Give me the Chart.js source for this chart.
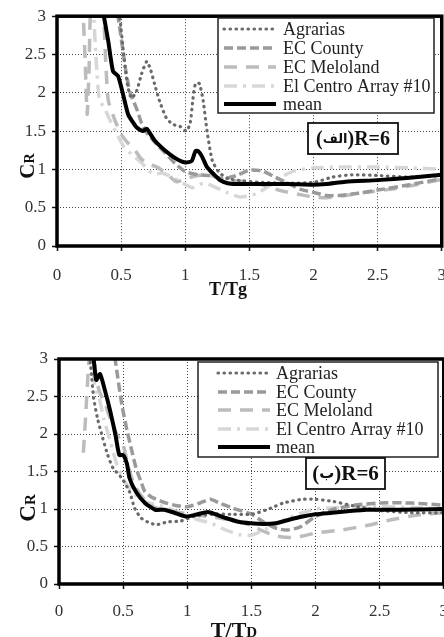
<!DOCTYPE html>
<html>
<head>
<meta charset="utf-8">
<script src="https://cdn.jsdelivr.net/npm/chart.js@4.4.1/dist/chart.umd.min.js"></script>
<style>
  html, body { margin: 0; padding: 0; background: #fff; overflow: hidden; width: 444px; height: 637px; position: relative; }
  canvas { position: absolute; left: 0; display: block; }
</style>
</head>
<body>
<canvas id="chartUpper" width="460" height="300" style="top:0"></canvas>
<canvas id="chartLower" width="460" height="337" style="top:300px"></canvas>
<script>
// ---- series names and axis ticks ----
const seriesNames = ['Agrarias', 'EC County', 'EC Meloland', 'El Centro Array #10', 'mean'];
const axisTicks = [0, 0.5, 1, 1.5, 2, 2.5, 3];

// ---- upper panel: C_R against T/Tg ----
const upperAgrariasX = [0.46,0.49,0.52,0.55,0.58,0.62,0.66,0.70,0.73,0.76,0.80,0.85,0.90,0.96,1.01,1.04,1.06,1.08,1.11,1.14,1.17,1.21,1.26,1.33,1.45,1.6,1.8,2.0,2.15,2.3,2.5,2.75,3.0];
const upperAgrariasY = [3.2,2.97,2.5,2.1,1.93,2.02,2.25,2.41,2.3,2.12,1.89,1.68,1.59,1.56,1.50,1.62,1.92,2.12,2.12,1.89,1.50,1.12,0.97,0.88,0.85,0.83,0.82,0.83,0.90,0.93,0.92,0.90,0.92];
const upperCountyX = [0.45,0.48,0.51,0.54,0.57,0.60,0.63,0.66,0.70,0.76,0.84,0.92,1.0,1.1,1.2,1.3,1.4,1.5,1.6,1.7,1.8,1.9,2.0,2.1,2.2,2.35,2.5,2.75,3.0];
const upperCountyY = [3.2,2.95,2.6,2.25,2.0,1.88,1.75,1.6,1.48,1.36,1.22,1.08,0.97,0.93,0.92,0.88,0.92,0.99,0.98,0.9,0.82,0.74,0.7,0.66,0.66,0.69,0.73,0.8,0.88];
const upperMelolandX = [0.2,0.22,0.235,0.25,0.27,0.35,0.38,0.40,0.45,0.50,0.55,0.60,0.65,0.70,0.78,0.86,0.93,1.0,1.1,1.2,1.3,1.4,1.5,1.6,1.75,1.9,2.0,2.1,2.25,2.4,2.6,2.8,3.0];
const upperMelolandY = [3.2,2.4,1.72,2.3,3.2,3.2,2.4,1.9,1.65,1.46,1.35,1.27,1.15,1.08,1.03,0.94,0.84,0.88,0.92,0.92,0.86,0.85,0.84,0.8,0.72,0.67,0.64,0.63,0.66,0.7,0.74,0.8,0.87];
const upperCentroX = [0.28,0.31,0.33,0.37,0.42,0.47,0.52,0.58,0.65,0.72,0.75,0.82,0.9,0.98,1.06,1.14,1.22,1.32,1.43,1.55,1.65,1.75,1.85,2.0,2.2,2.5,2.75,3.0];
const upperCentroY = [3.2,2.3,1.92,1.8,1.62,1.45,1.3,1.2,1.1,0.98,0.94,0.95,0.9,0.82,0.76,0.82,0.78,0.7,0.64,0.68,0.78,0.9,0.98,1.02,1.03,1.03,1.02,1.0];
const upperMeanX = [0.36,0.40,0.437,0.476,0.515,0.554,0.59,0.62,0.67,0.70,0.76,0.84,0.92,1.00,1.05,1.08,1.10,1.13,1.17,1.22,1.27,1.33,1.40,1.6,1.8,2.0,2.1,2.25,2.5,2.75,3.0];
const upperMeanY = [3.05,2.67,2.28,2.22,1.98,1.72,1.62,1.55,1.50,1.53,1.38,1.25,1.15,1.09,1.11,1.24,1.24,1.17,1.03,0.94,0.86,0.82,0.81,0.81,0.81,0.80,0.81,0.84,0.86,0.89,0.93];

// ---- lower panel: C_R against T/TD ----
const lowerAgrariasX = [0.23,0.25,0.27,0.30,0.34,0.38,0.42,0.49,0.55,0.59,0.64,0.70,0.76,0.85,0.95,1.05,1.2,1.35,1.5,1.62,1.75,1.9,2.0,2.14,2.3,2.5,2.75,3.0];
const lowerAgrariasY = [3.2,2.85,2.48,2.21,1.95,1.72,1.55,1.41,1.23,1.01,0.88,0.82,0.79,0.83,0.84,0.90,0.93,0.93,0.93,0.99,1.08,1.13,1.13,1.1,1.04,0.98,0.95,0.95];
const lowerCountyX = [0.42,0.45,0.49,0.53,0.57,0.60,0.64,0.67,0.72,0.8,0.9,1.0,1.1,1.18,1.25,1.36,1.5,1.6,1.7,1.78,1.88,2.0,2.15,2.3,2.5,2.75,3.0];
const lowerCountyY = [3.2,2.85,2.39,2.05,1.76,1.55,1.36,1.23,1.16,1.1,1.05,1.03,1.08,1.13,1.08,1.01,0.93,0.82,0.74,0.72,0.76,0.9,1.0,1.05,1.08,1.08,1.05];
const lowerMelolandX = [0.19,0.21,0.23,0.25,0.27,0.29,0.32,0.36,0.40,0.45,0.50,0.53,0.56,0.60,0.67,0.75,0.85,0.95,1.05,1.15,1.25,1.35,1.5,1.6,1.7,1.8,1.9,2.0,2.2,2.4,2.6,2.8,3.0];
const lowerMelolandY = [1.75,2.3,2.9,3.2,3.2,2.72,2.55,2.4,2.2,2.0,1.85,1.65,1.45,1.28,1.12,1.02,0.98,0.95,0.93,0.9,0.88,0.85,0.78,0.7,0.64,0.62,0.64,0.68,0.72,0.78,0.86,0.92,0.95];
const lowerCentroX = [0.26,0.28,0.31,0.35,0.40,0.45,0.50,0.55,0.62,0.70,0.80,0.90,1.0,1.1,1.2,1.3,1.4,1.5,1.6,1.75,1.9,2.0,2.25,2.5,2.75,3.0];
const lowerCentroY = [3.2,2.6,2.5,2.2,1.9,1.6,1.4,1.28,1.15,1.08,1.04,0.98,0.9,0.85,0.8,0.72,0.66,0.65,0.72,0.85,0.95,1.0,1.02,1.03,1.02,1.0];
const lowerMeanX = [0.265,0.29,0.32,0.36,0.40,0.44,0.47,0.50,0.53,0.55,0.60,0.67,0.75,0.82,0.90,0.99,1.08,1.16,1.22,1.30,1.40,1.49,1.6,1.69,1.8,1.9,2.0,2.13,2.25,2.4,2.65,3.0];
const lowerMeanY = [3.1,2.72,2.8,2.57,2.3,1.99,1.72,1.72,1.6,1.41,1.23,1.08,0.99,0.99,0.95,0.90,0.93,0.96,0.93,0.88,0.83,0.81,0.80,0.81,0.86,0.90,0.93,0.95,0.97,0.99,0.99,1.0];

// ---- line styles per series (same order as seriesNames) ----
const lineStyles = [
  { color: '#6a6a6a', dash: [0.5, 5.5], width: 3.2, cap: 'round', order: 1 },
  { color: '#9a9a9a', dash: [9, 4],     width: 3.5, cap: 'butt',  order: 2 },
  { color: '#bcbcbc', dash: [13, 9],    width: 3.5, cap: 'butt',  order: 3 },
  { color: '#d7d7d7', dash: [13, 6, 3, 6], width: 3.5, cap: 'butt', order: 4 },
  { color: '#000000', dash: [],         width: 4,   cap: 'butt',  order: 0 }
];

const serif = "'Liberation Serif', 'Times New Roman', serif";

function zip(xs, ys) { return xs.map((x, i) => ({ x: x, y: ys[i] })); }

function makeDatasets(pairs) {
  return pairs.map((p, i) => ({
    label: seriesNames[i],
    data: zip(p[0], p[1]),
    borderColor: lineStyles[i].color,
    borderDash: lineStyles[i].dash,
    borderWidth: lineStyles[i].width,
    borderCapStyle: lineStyles[i].cap,
    order: lineStyles[i].order,
    pointRadius: 0,
    tension: 0.2,
    fill: false,
    clip: 0
  }));
}

// thick frame around the plotting area
const plotFrame = {
  id: 'plotFrame',
  afterDatasetsDraw(chart, args, o) {
    const { ctx, chartArea: a } = chart;
    ctx.save();
    ctx.lineWidth = o.width;
    ctx.strokeStyle = '#000';
    ctx.strokeRect(a.left, a.top, a.right - a.left, a.bottom - a.top);
    ctx.restore();
  }
};

// legend box drawn inside the plotting area
const insetLegend = {
  id: 'insetLegend',
  afterDraw(chart, args, o) {
    const ctx = chart.ctx;
    const [x1, y1, x2, y2] = o.box;
    ctx.save();
    ctx.fillStyle = '#fff';
    ctx.fillRect(x1, y1, x2 - x1, y2 - y1);
    ctx.lineWidth = 1.5;
    ctx.strokeStyle = '#222';
    ctx.strokeRect(x1, y1, x2 - x1, y2 - y1);
    chart.data.datasets.forEach((ds, i) => {
      const y = o.rows[i];
      ctx.beginPath();
      ctx.setLineDash(ds.borderDash || []);
      ctx.lineCap = ds.borderCapStyle || 'butt';
      ctx.lineWidth = ds.borderWidth;
      ctx.strokeStyle = ds.borderColor;
      ctx.moveTo(o.sample[0], y);
      ctx.lineTo(o.sample[1], y);
      ctx.stroke();
      ctx.setLineDash([]);
      ctx.fillStyle = '#222';
      ctx.font = o.font;
      ctx.textBaseline = 'middle';
      ctx.textAlign = 'left';
      ctx.fillText(ds.label, o.textX, y + 1);
    });
    ctx.restore();
  }
};

// boxed panel tag such as "(ب)R=6"
const panelTag = {
  id: 'panelTag',
  afterDraw(chart, args, o) {
    const ctx = chart.ctx;
    const [x1, y1, x2, y2] = o.box;
    ctx.save();
    ctx.fillStyle = '#fff';
    ctx.fillRect(x1, y1, x2 - x1, y2 - y1);
    ctx.lineWidth = 1.8;
    ctx.strokeStyle = '#111';
    ctx.strokeRect(x1, y1, x2 - x1, y2 - y1);
    const latin = 'bold ' + o.size + 'px ' + serif;
    const arabic = 'bold ' + o.arabicSize + "px 'DejaVu Sans', 'Noto Sans', sans-serif";
    const parts = [['(', latin], [o.arabic, arabic], [')' + o.text, latin]];
    let total = 0;
    parts.forEach(p => { ctx.font = p[1]; total += ctx.measureText(p[0]).width; });
    let x = (x1 + x2) / 2 - total / 2;
    const y = (y1 + y2) / 2 + 1;
    ctx.fillStyle = '#111';
    ctx.textBaseline = 'middle';
    ctx.textAlign = 'left';
    parts.forEach(p => {
      ctx.font = p[1];
      ctx.fillText(p[0], x, y);
      x += ctx.measureText(p[0]).width;
    });
    ctx.restore();
  }
};

// axis titles with a smaller second letter (C_R, T/Tg, T/TD)
const axisTitles = {
  id: 'axisTitles',
  afterDraw(chart, args, o) {
    const ctx = chart.ctx;
    ctx.save();
    ctx.fillStyle = '#111';
    ctx.textBaseline = 'alphabetic';
    ctx.textAlign = 'left';
    // vertical title
    const yt = o.y;
    ctx.font = 'bold ' + yt.big + 'px ' + serif;
    const w1 = ctx.measureText(yt.main).width;
    ctx.font = 'bold ' + yt.small + 'px ' + serif;
    const w2 = ctx.measureText(yt.sub).width;
    ctx.translate(yt.x, yt.cy);
    ctx.rotate(-Math.PI / 2);
    const start = -(w1 + w2) / 2;
    ctx.font = 'bold ' + yt.big + 'px ' + serif;
    ctx.fillText(yt.main, start, yt.big * 0.35);
    ctx.font = 'bold ' + yt.small + 'px ' + serif;
    ctx.fillText(yt.sub, start + w1, yt.big * 0.35);
    ctx.setTransform(1, 0, 0, 1, 0, 0);
    // horizontal title
    const xt = o.x;
    ctx.font = 'bold ' + xt.big + 'px ' + serif;
    const v1 = ctx.measureText(xt.main).width;
    ctx.font = 'bold ' + xt.small + 'px ' + serif;
    const v2 = ctx.measureText(xt.sub).width;
    const sx = xt.cx - (v1 + v2) / 2;
    ctx.font = 'bold ' + xt.big + 'px ' + serif;
    ctx.fillText(xt.main, sx, xt.base);
    ctx.font = 'bold ' + xt.small + 'px ' + serif;
    ctx.fillText(xt.sub, sx + v1, xt.base);
    ctx.restore();
  }
};

function axisOptions(axisSize, isY, padding) {
  return {
    type: 'linear',
    min: 0,
    max: 3,
    afterBuildTicks: s => { s.ticks = axisTicks.map(v => ({ value: v })); },
    afterFit: s => { if (isY) { s.width = axisSize; } else { s.height = axisSize; } },
    grid: {
      color: '#444',
      lineWidth: 1,
      drawTicks: true,
      tickLength: 5,
      tickColor: '#111',
      tickWidth: 1.5
    },
    border: { display: false, dash: [1, 2] },
    ticks: {
      padding: padding,
      color: '#333',
      maxRotation: 0,
      autoSkip: false,
      font: { family: serif, size: 17 },
      callback: v => String(v)
    }
  };
}

function buildChart(id, pairs, cfg) {
  return new Chart(document.getElementById(id), {
    type: 'line',
    data: { datasets: makeDatasets(pairs) },
    options: {
      responsive: false,
      animation: false,
      devicePixelRatio: 1,
      layout: { padding: cfg.padding },
      scales: {
        x: axisOptions(cfg.xHeight, false, cfg.xPad),
        y: axisOptions(cfg.yWidth, true, 6)
      },
      plugins: {
        legend: { display: false },
        tooltip: { enabled: false },
        plotFrame: { width: 3.5 },
        insetLegend: cfg.legend,
        panelTag: cfg.tag,
        axisTitles: cfg.titles
      }
    },
    plugins: [plotFrame, insetLegend, panelTag, axisTitles]
  });
}

buildChart('chartUpper', [
  [upperAgrariasX, upperAgrariasY],
  [upperCountyX, upperCountyY],
  [upperMelolandX, upperMelolandY],
  [upperCentroX, upperCentroY],
  [upperMeanX, upperMeanY]
], {
  padding: { top: 15, right: 18, left: 0, bottom: 0 },
  xHeight: 54, yWidth: 57, xPad: 14,
  legend: { box: [218, 18, 434, 113], sample: [224, 276], textX: 283, rows: [29, 48, 67, 86, 104], font: '18px ' + serif },
  tag: { box: [308, 123, 398, 154], arabic: 'الف', text: 'R=6', size: 20, arabicSize: 13 },
  titles: {
    y: { main: 'C', sub: 'R', big: 21, small: 14, x: 27, cy: 166 },
    x: { main: 'T/T', sub: 'g', big: 18, small: 18, cx: 228, base: 295 }
  }
});

buildChart('chartLower', [
  [lowerAgrariasX, lowerAgrariasY],
  [lowerCountyX, lowerCountyY],
  [lowerMelolandX, lowerMelolandY],
  [lowerCentroX, lowerCentroY],
  [lowerMeanX, lowerMeanY]
], {
  padding: { top: 59, right: 15, left: 0, bottom: 0 },
  xHeight: 53, yWidth: 59, xPad: 12,
  legend: { box: [198, 62, 438, 157], sample: [218, 270], textX: 276, rows: [73, 92, 110, 129, 147], font: '18px ' + serif },
  tag: { box: [306, 158, 385, 189], arabic: 'ب', text: 'R=6', size: 21, arabicSize: 15 },
  titles: {
    y: { main: 'C', sub: 'R', big: 23, small: 15, x: 27, cy: 208 },
    x: { main: 'T/T', sub: 'D', big: 22, small: 15, cx: 234, base: 337 }
  }
});
</script>
</body>
</html>
